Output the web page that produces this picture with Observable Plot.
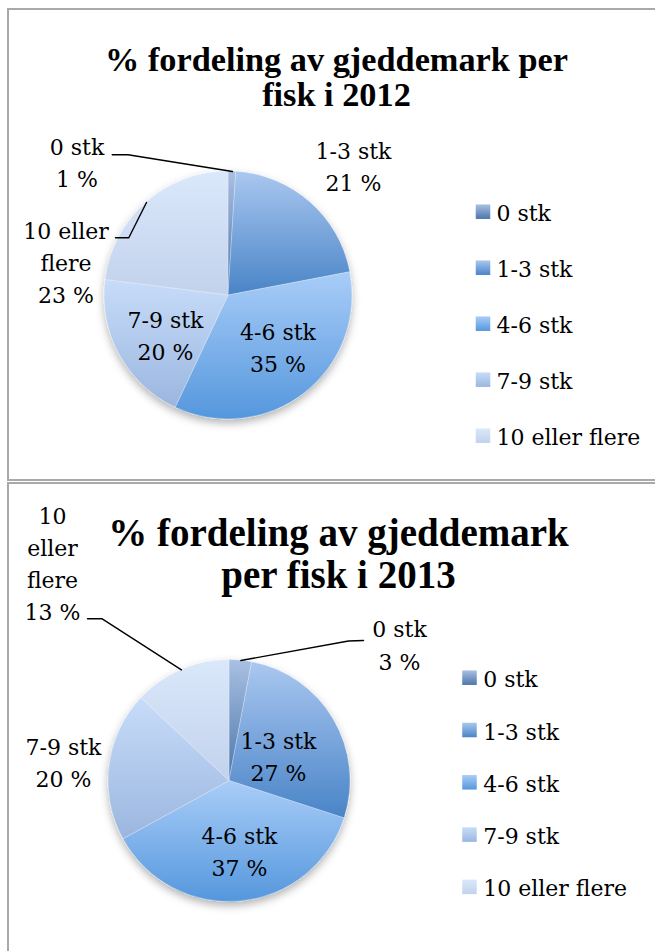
<!DOCTYPE html>
<html><head><meta charset="utf-8">
<script src="https://cdn.jsdelivr.net/npm/d3@7"></script>
<script src="https://cdn.jsdelivr.net/npm/@observablehq/plot@0.6"></script>
<style>
html,body{margin:0;padding:0;overflow:hidden;background:#fff;width:655px;height:951px;}
.frame{position:absolute;border:2px solid #a9a9a9;box-sizing:border-box;pointer-events:none;}
.plot{position:absolute;left:0;width:655px;}
</style></head><body>
<div id="p1" class="plot" style="top:0"></div>
<div id="p2" class="plot" style="top:481px"></div>
<div class="frame" style="left:7px;top:8px;width:700px;height:473px"></div>
<div class="frame" style="left:7px;top:482px;width:700px;height:520px"></div>
<script>
// ---- data ----
const categories = ["0 stk", "1-3 stk", "4-6 stk", "7-9 stk", "10 eller flere"];
const values2012 = [1, 21, 35, 20, 23];
const values2013 = [3, 27, 37, 20, 13];
const title2012 = ["% fordeling av gjeddemark per", "fisk i 2012"];
const title2013 = ["% fordeling av gjeddemark", "per fisk i 2013"];
const labelLines2012 = [["0 stk"], ["1-3 stk"], ["4-6 stk"], ["7-9 stk"], ["10 eller", "flere"]];
const labelLines2013 = [["0 stk"], ["1-3 stk"], ["4-6 stk"], ["7-9 stk"], ["10", "eller", "flere"]];
const gradTop = ["#a9c0e2", "#aac7f0", "#a9cdf8", "#c7dcf9", "#dae8fb"];
const gradBottom = ["#4b76ac", "#4984c7", "#5597dd", "#9bb6df", "#c2d2ec"];

// ---- layout ----
const layout2012 = {
  id: "g12", top: 0, height: 481,
  cx: 228, cy: 295, r: 124,
  title: {x: 336, y0: 70, step: 35, size: 34.3},
  labels: [{x: 76.5, y: 154}, {x: 353, y: 158}, {x: 277.5, y: 339.5}, {x: 165, y: 327}, {x: 65.5, y: 238.5}],
  lineStep: 32,
  leaders: [{i: 0, pts: [[111.7, 154.3], [127.5, 154.3]]}, {i: 4, pts: [[115, 237.3], [128.3, 237.3]]}],
  legend: {sx: 482.5, tx: 496, y0: 220.7, step: 56}
};
const layout2013 = {
  id: "g13", top: 481, height: 470,
  cx: 229, cy: 780.5, r: 121,
  title: {x: 338, y0: 545, step: 42, size: 39},
  labels: [{x: 399, y: 636.7}, {x: 278, y: 748}, {x: 239, y: 843}, {x: 63, y: 754}, {x: 52, y: 523}],
  lineStep: 32.3,
  leaders: [{i: 0, pts: [[363, 640], [348, 640.5]]}, {i: 4, pts: [[87, 618.3], [101.7, 618.3]]}],
  legend: {sx: 469, tx: 482.7, y0: 686.7, step: 52.3}
};

function pieMark(values, L) {
  return (index, scales) => {
    const x = scales.x, y = scales.y;
    const arcs = d3.pie().sort(null).value(d => d)(values);
    const X = x(L.cx), Y = y(L.cy), R = x(L.cx + L.r) - X;
    const g = d3.create("svg:g");
    const defs = g.append("defs");
    categories.forEach((c, i) => {
      const lg = defs.append("linearGradient").attr("id", `${L.id}-${i}`)
        .attr("x1", 0).attr("y1", 0).attr("x2", 0).attr("y2", 1);
      lg.append("stop").attr("offset", "0%").attr("stop-color", gradTop[i]);
      lg.append("stop").attr("offset", "100%").attr("stop-color", gradBottom[i]);
    });
    const f = defs.append("filter").attr("id", `${L.id}-sh`)
      .attr("x", "-20%").attr("y", "-20%").attr("width", "140%").attr("height", "150%");
    f.append("feDropShadow").attr("dx", 0).attr("dy", 4).attr("stdDeviation", 4)
      .attr("flood-color", "#000").attr("flood-opacity", 0.3);
    const arc = d3.arc().innerRadius(0).outerRadius(R);
    g.append("g").attr("transform", `translate(${X},${Y})`).attr("filter", `url(#${L.id}-sh)`)
      .selectAll("path").data(arcs).join("path")
      .attr("d", arc)
      .attr("fill", (d, i) => `url(#${L.id}-${i})`)
      .attr("stroke", "#fff").attr("stroke-opacity", 0.35).attr("stroke-width", 0.75);
    return g.node();
  };
}

function makePanel(values, labelLines, titleLines, L) {
  const arcs = d3.pie().sort(null).value(d => d)(values);
  const arcPoint = i => {
    const a = (arcs[i].startAngle + arcs[i].endAngle) / 2;
    return [L.cx + L.r * Math.sin(a), L.cy - L.r * Math.cos(a)];
  };
  const labelRows = [];
  categories.forEach((c, i) => {
    const lines = [...labelLines[i], `${values[i]} %`];
    lines.forEach((t, j) => labelRows.push({text: t, x: L.labels[i].x, y: L.labels[i].y + j * L.lineStep}));
  });
  const leaderRows = [];
  L.leaders.forEach(ld => {
    [...ld.pts, arcPoint(ld.i)].forEach(p => leaderRows.push({k: ld.i, x: p[0], y: p[1]}));
  });
  const titleRows = titleLines.map((t, j) => ({text: t, x: L.title.x, y: L.title.y0 + j * L.title.step}));
  const font = "DejaVu Serif";
  return Plot.plot({
    width: 655, height: L.height, margin: 0,
    x: {domain: [0, 655], range: [0, 655], axis: null},
    y: {domain: [L.top, L.top + L.height], range: [0, L.height], axis: null},
    color: {type: "identity"},
    style: {background: "transparent", overflow: "visible"},
    marks: [
      pieMark(values, L),
      Plot.line(leaderRows, {x: "x", y: "y", z: "k", stroke: "#000", strokeWidth: 1.4}),
      Plot.text(titleRows, {x: "x", y: "y", text: "text", fontFamily: "Liberation Serif", fontWeight: "bold",
        fontSize: L.title.size, fill: "#000", lineAnchor: "bottom", textAnchor: "middle"}),
      Plot.text(labelRows, {x: "x", y: "y", text: "text", fontFamily: font, fontSize: 22,
        fill: "#000", lineAnchor: "bottom", textAnchor: "middle"}),
      Plot.dot(categories, {x: () => L.legend.sx, y: (d, i) => L.legend.y0 + i * L.legend.step - 9.5,
        symbol: "square", r: 8.2, fill: (d, i) => `url(#${L.id}-${i})`, stroke: null}),
      Plot.text(categories, {x: () => L.legend.tx, y: (d, i) => L.legend.y0 + i * L.legend.step,
        text: d => d, fontFamily: font, fontSize: 22, fill: "#000", lineAnchor: "bottom", textAnchor: "start"})
    ]
  });
}

document.getElementById("p1").appendChild(makePanel(values2012, labelLines2012, title2012, layout2012));
document.getElementById("p2").appendChild(makePanel(values2013, labelLines2013, title2013, layout2013));
</script>
</body></html>
